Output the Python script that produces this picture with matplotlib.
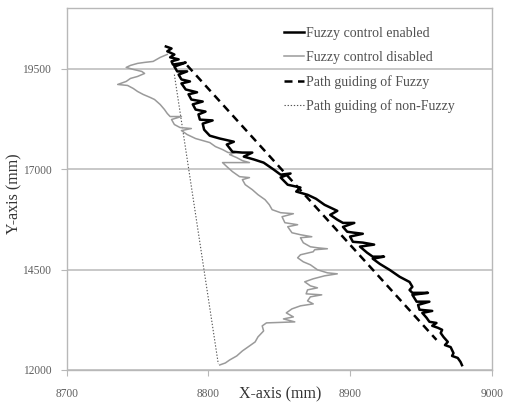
import matplotlib
matplotlib.use("Agg")
import matplotlib.pyplot as plt

# fuzzy control enabled path (mm)
on_x = [8770, 8774, 8771, 8776, 8773, 8779, 8774, 8775, 8784, 8776,
        8778, 8785, 8779, 8781, 8787, 8781, 8784, 8792, 8786, 8788,
        8796, 8789, 8791, 8798, 8793, 8794, 8803, 8796, 8797, 8801,
        8808, 8818, 8813, 8817, 8824, 8831, 8825, 8832, 8839, 8846,
        8851, 8858, 8851, 8856, 8865, 8862, 8870, 8876, 8882, 8891,
        8886, 8891, 8895, 8903, 8895, 8898, 8902, 8909, 8900, 8902,
        8909, 8917, 8907, 8912, 8916, 8924, 8916, 8921, 8928, 8935,
        8942, 8944, 8942, 8944, 8955, 8944, 8947, 8956, 8948, 8949,
        8958, 8951, 8954, 8956, 8961, 8958, 8962, 8965, 8964, 8966,
        8969, 8967, 8971, 8973, 8972, 8976, 8978, 8979]
on_y = [20050, 20000, 19930, 19850, 19780, 19730, 19680, 19600, 19650, 19550,
        19430, 19430, 19350, 19230, 19180, 19130, 18980, 18910, 18860, 18730,
        18680, 18610, 18480, 18430, 18360, 18230, 18210, 18130, 17980, 17830,
        17760, 17680, 17610, 17430, 17410, 17410, 17310, 17240, 17160, 16990,
        16860, 16890, 16790, 16610, 16540, 16440, 16360, 16260, 16110, 15960,
        15860, 15740, 15660, 15660, 15560, 15440, 15420, 15390, 15320, 15190,
        15170, 15120, 15070, 14920, 14820, 14820, 14770, 14640, 14490, 14320,
        14190, 14070, 13990, 13920, 13920, 13870, 13700, 13700, 13620, 13500,
        13470, 13420, 13300, 13200, 13170, 13100, 13050, 13000, 12920, 12820,
        12700, 12620, 12570, 12420, 12350, 12300, 12200, 12120]

# fuzzy control disabled path (mm)
off_x = [8771, 8766, 8761, 8755, 8750, 8745, 8742, 8747, 8753, 8755,
         8750, 8745, 8742, 8736, 8743, 8747, 8750, 8754, 8759, 8762,
         8766, 8769, 8771, 8773, 8781, 8774, 8776, 8780, 8788, 8781,
         8785, 8791, 8796, 8801, 8805, 8810, 8814, 8819, 8815, 8820,
         8824, 8829, 8810, 8813, 8817, 8822, 8829, 8824, 8826, 8831,
         8835, 8840, 8843, 8845, 8851, 8860, 8852, 8854, 8863, 8856,
         8859, 8865, 8873, 8865, 8867, 8872, 8877, 8884, 8875, 8874,
         8865, 8863, 8867, 8872, 8877, 8884, 8891, 8882, 8874, 8868,
         8872, 8877, 8870, 8869, 8880, 8872, 8870, 8874, 8865, 8859,
         8855, 8860, 8853, 8861, 8841, 8838, 8839, 8835, 8833, 8829,
         8824, 8820, 8815, 8812, 8808]
off_y = [19853, 19778, 19678, 19654, 19629, 19579, 19529, 19479, 19429, 19379,
         19304, 19255, 19180, 19105, 19080, 19005, 18931, 18856, 18781, 18731,
         18606, 18482, 18382, 18307, 18307, 18233, 18108, 18033, 18008, 17958,
         17859, 17759, 17709, 17659, 17559, 17485, 17410, 17410, 17360, 17285,
         17210, 17161, 17161, 17061, 16936, 16811, 16787, 16737, 16612, 16487,
         16363, 16238, 16113, 15989, 15914, 15889, 15814, 15665, 15615, 15565,
         15415, 15366, 15316, 15291, 15166, 15066, 15041, 15017, 14992, 14942,
         14867, 14792, 14692, 14618, 14493, 14418, 14393, 14343, 14269, 14194,
         14094, 14044, 13994, 13895, 13870, 13820, 13720, 13645, 13596, 13521,
         13421, 13321, 13271, 13197, 13172, 13097, 12972, 12823, 12698, 12598,
         12474, 12349, 12249, 12175, 12125]

# straight guide paths (mm)
guide_fuzzy_x = [8785, 8961]
guide_fuzzy_y = [19580, 12750]
guide_plain_x = [8776, 8807]
guide_plain_y = [19350, 12150]

x_ticks = [8700, 8800, 8900, 9000]
y_ticks = [12000, 14500, 17000, 19500]

plt.rcParams["font.family"] = ["Liberation Serif", "DejaVu Serif"]

fig = plt.figure(figsize=(5.06, 4.03), dpi=100)
ax = fig.add_axes([0.1318, 0.0819, 0.840, 0.8975])

ax.plot(on_x, on_y, color="black", lw=1.8, solid_joinstyle="round",
        label="Fuzzy control enabled", zorder=4)
ax.plot(off_x, off_y, color="#9a9a9a", lw=1.1, label="Fuzzy control disabled", zorder=3)
ax.plot(guide_fuzzy_x, guide_fuzzy_y, color="black", lw=1.8, dashes=(3.2, 2.2),
        label="Path guiding of Fuzzy", zorder=5)
ax.plot(guide_plain_x, guide_plain_y, color="#555555", lw=0.8, dashes=(1.2, 1.6),
        label="Path guiding of non-Fuzzy", zorder=2)

ax.set_xlim(8700, 9000)
ax.set_ylim(12000, 21000)
ax.set_xticks(x_ticks)
ax.set_yticks(y_ticks)
ax.yaxis.grid(True, color="#c8c8c8", lw=1.4)
ax.set_axisbelow(True)
for s in ax.spines.values():
    s.set_color("#b8b8b8")
    s.set_linewidth(1.0)
ax.tick_params(axis="x", colors="#b8b8b8", labelcolor="#606060", labelsize=8.3,
               length=4, pad=9)
ax.tick_params(axis="y", colors="#b8b8b8", labelcolor="#606060", labelsize=8.3,
               length=4, pad=7)

fig.text(0.028, 0.52, "Y-axis (mm)", rotation=90, ha="center", va="center",
         fontsize=11.5, color="#333333")
fig.text(0.553, 0.022, "X-axis (mm)", ha="center", va="center",
         fontsize=11.5, color="#333333")

leg = ax.legend(loc="upper left", bbox_to_anchor=(0.512, 0.948), frameon=False,
                fontsize=10, handlelength=1.45, handletextpad=0.1,
                borderaxespad=0, borderpad=0, labelspacing=0.78)
for t in leg.get_texts():
    t.set_color("#505050")

fig.savefig("out.png", dpi=100)
